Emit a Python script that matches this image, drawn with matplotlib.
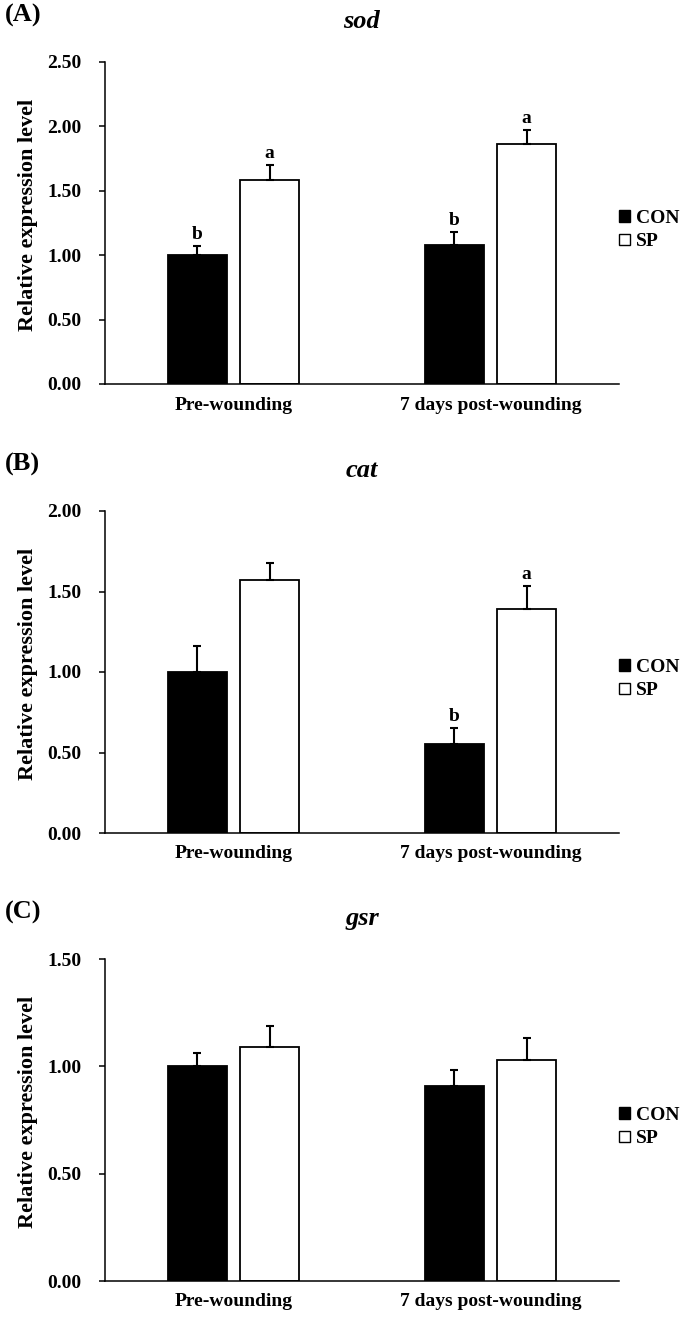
import matplotlib
matplotlib.use('Agg')
import matplotlib.pyplot as plt
from matplotlib.patches import Patch
import numpy as np

plt.rcParams['font.family'] = ['Liberation Serif', 'DejaVu Serif']
plt.rcParams['font.weight'] = 'bold'

categories = ['Pre-wounding', '7 days post-wounding']
series = ['CON', 'SP']

genes = ['sod', 'cat', 'gsr']
panel_labels = ['(A)', '(B)', '(C)']

sod_con = [1.00, 1.08]
sod_con_err = [0.075, 0.10]
sod_sp = [1.58, 1.86]
sod_sp_err = [0.12, 0.11]
sod_con_letters = ['b', 'b']
sod_sp_letters = ['a', 'a']

cat_con = [1.00, 0.55]
cat_con_err = [0.16, 0.105]
cat_sp = [1.57, 1.39]
cat_sp_err = [0.105, 0.145]
cat_con_letters = ['', 'b']
cat_sp_letters = ['', 'a']

gsr_con = [1.00, 0.91]
gsr_con_err = [0.06, 0.075]
gsr_sp = [1.09, 1.03]
gsr_sp_err = [0.10, 0.10]
gsr_con_letters = ['', '']
gsr_sp_letters = ['', '']

ymax = [2.5, 2.0, 1.5]

data = [
    (sod_con, sod_con_err, sod_sp, sod_sp_err, sod_con_letters, sod_sp_letters),
    (cat_con, cat_con_err, cat_sp, cat_sp_err, cat_con_letters, cat_sp_letters),
    (gsr_con, gsr_con_err, gsr_sp, gsr_sp_err, gsr_con_letters, gsr_sp_letters),
]

W, H = 685, 1318
fig = plt.figure(figsize=(W / 100, H / 100), dpi=100)

ax_left = 105 / W
ax_w = (619 - 105) / W
ax_h = 322 / H
tops = [62, 511, 959]

bw = 0.2296
off = 0.141
fs = 14

for k in range(3):
    con, con_e, sp, sp_e, lc, ls = data[k]
    top = tops[k]
    bottom = 1 - (top + 322) / H
    ax = fig.add_axes([ax_left, bottom, ax_w, ax_h])
    x = np.arange(len(categories))
    ax.bar(x - off, con, bw, color='black', edgecolor='black', linewidth=1.3, zorder=2)
    ax.bar(x + off, sp, bw, color='white', edgecolor='black', linewidth=1.3, zorder=2)
    ax.errorbar(x - off, con, yerr=[np.zeros(len(con)), con_e], fmt='none', ecolor='black',
                elinewidth=1.5, capsize=3, capthick=1.5, zorder=3)
    ax.errorbar(x + off, sp, yerr=[np.zeros(len(sp)), sp_e], fmt='none', ecolor='black',
                elinewidth=1.5, capsize=3, capthick=1.5, zorder=3)
    for i in range(len(categories)):
        if lc[i]:
            ax.annotate(lc[i], (x[i] - off, con[i] + con_e[i]), xytext=(0, 5),
                        textcoords='offset points', ha='center', va='baseline',
                        fontsize=fs, fontweight='bold')
        if ls[i]:
            ax.annotate(ls[i], (x[i] + off, sp[i] + sp_e[i]), xytext=(0, 5),
                        textcoords='offset points', ha='center', va='baseline',
                        fontsize=fs, fontweight='bold')
    ax.set_xlim(-0.5, 1.5)
    ax.set_ylim(0, ymax[k])
    ax.set_yticks(np.arange(0, ymax[k] + 0.001, 0.5))
    ax.set_yticklabels(['%.2f' % v for v in np.arange(0, ymax[k] + 0.001, 0.5)],
                       fontsize=fs, fontweight='bold')
    ax.set_xticks(x)
    ax.set_xticklabels(categories, fontsize=fs, fontweight='bold')
    ax.tick_params(axis='x', length=0, pad=9)
    ax.tick_params(axis='y', length=4, width=1.1, pad=13, direction='out')
    for s in ['top', 'right']:
        ax.spines[s].set_visible(False)
    for s in ['left', 'bottom']:
        ax.spines[s].set_linewidth(1.1)

    ax.text(0.5, 1 + 40 / 322, genes[k], transform=ax.transAxes, ha='center', va='center',
            fontsize=19, fontweight='bold', fontstyle='italic')
    fig.text(5 / W, 1 - (top - 47) / H, panel_labels[k], ha='left', va='center',
             fontsize=19, fontweight='bold')
    fig.text(28.5 / W, 1 - (top + 153) / H, 'Relative expression level', rotation=90,
             ha='center', va='center', fontsize=16, fontweight='bold')

    handles = [Patch(facecolor='black', edgecolor='black', linewidth=1.0),
               Patch(facecolor='white', edgecolor='black', linewidth=1.0)]
    leg = ax.legend(handles, series, loc='center left', bbox_to_anchor=(1.0, 0.478),
                    frameon=False, handlelength=0.55, handleheight=0.55, handletextpad=0.3,
                    labelspacing=0.35, borderaxespad=0, borderpad=0,
                    prop={'size': fs, 'weight': 'bold'})

fig.savefig('out.png', dpi=100)
